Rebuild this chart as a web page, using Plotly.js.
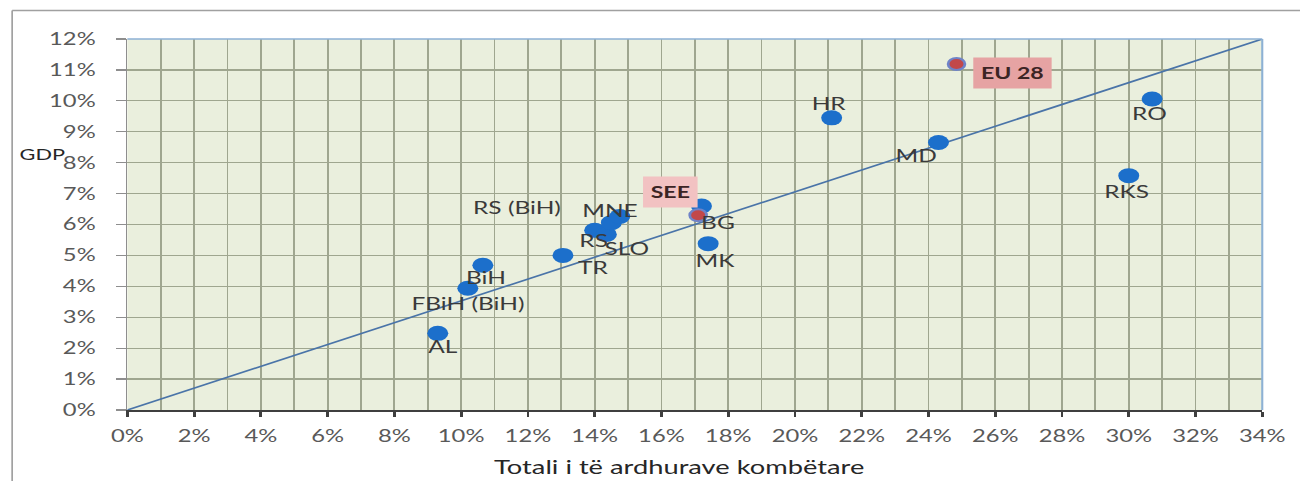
<!DOCTYPE html>
<html>
<head>
<meta charset="utf-8">
<script src="https://cdn.plot.ly/plotly-3.0.1.min.js"></script>
<style>
  html, body { margin:0; padding:0; background:#fff; overflow:hidden; }
  #wrap { position:absolute; left:0; top:0; width:929px; height:481px; transform:scaleX(1.3994); transform-origin:0 0; }
  #chart { width:929px; height:481px; }
</style>
</head>
<body>
<div id="wrap"><div id="chart"></div></div>
<script>
// ---- data (percent) ----
const countries = ['AL','FBiH (BiH)','BiH','TR','RS','SLO','RS (BiH)','MNE','BG','MK','HR','MD','RO','RKS'];
const revenue   = [9.3, 10.2, 10.65, 13.05, 14.0, 14.35, 14.5, 14.75, 17.2, 17.4, 21.1, 24.3, 30.7, 30.0];
const gdp       = [2.48, 3.94, 4.68, 5.0, 5.81, 5.68, 6.06, 6.26, 6.6, 5.38, 9.45, 8.65, 10.06, 7.58];

const aggregates   = ['SEE','EU 28'];
const aggRevenue   = [17.1, 24.84];
const aggGdp       = [6.3, 11.19];

const trendX = [0, 34];
const trendY = [0, 12];

const xTickVals = [0,2,4,6,8,10,12,14,16,18,20,22,24,26,28,30,32,34];
const yTickVals = [0,1,2,3,4,5,6,7,8,9,10,11,12];

const xTitle = 'Totali i të ardhurave kombëtare';
const yTitle = 'GDP';

// ---- presentation ----
const S = 1.3994; // horizontal stretch of the reference
const FONT = 'Lato, "Open Sans", sans-serif';
// label offsets in reference pixels [dx right, dy up]
const labelOffsets = {
  'AL':[5,-13], 'FBiH (BiH)':[0,-15], 'BiH':[4,-12], 'TR':[30,-12], 'RS':[-2,-10],
  'SLO':[20,-14], 'RS (BiH)':[-94,15], 'MNE':[-10,6], 'BG':[16,-17], 'MK':[7,-17],
  'HR':[-3,14], 'MD':[-22,-13], 'RO':[-3,-15], 'RKS':[-2,-16]
};
const aggOffsets = { 'SEE':[-28,23], 'EU 28':[56,-9] };
const aggBoxes = { 'SEE':'#F2C2C2', 'EU 28':'#E6A3A3' };

const gridColor = '#9FA68F';

const traces = [
  { x: trendX, y: trendY, mode:'lines', type:'scatter',
    line:{color:'#4A74A8', width:1.6}, hoverinfo:'skip' },
  { x: revenue, y: gdp, mode:'markers', type:'scatter', text: countries,
    marker:{color:'#1C6FCB', size:15, line:{width:0}}, cliponaxis:false },
  { x: aggRevenue, y: aggGdp, mode:'markers', type:'scatter', text: aggregates,
    marker:{color:'#C2484A', size:12, line:{color:'#6F83C8', width:2}}, cliponaxis:false }
];

const annotations = [];
countries.forEach((c,i) => {
  const o = labelOffsets[c];
  annotations.push({ x: revenue[i], y: gdp[i], xref:'x', yref:'y', text: c, showarrow:false,
    xshift: o[0]/S, yshift: o[1], font:{family:FONT, size:17.5, color:'#3A3A3A'} });
});
aggregates.forEach((c,i) => {
  const o = aggOffsets[c];
  annotations.push({ x: aggRevenue[i], y: aggGdp[i], xref:'x', yref:'y', text: '<b>'+c+'</b>', showarrow:false,
    xshift: o[0]/S, yshift: o[1], bgcolor: aggBoxes[c], borderpad: 5,
    font:{family:FONT, size:16.5, color:'#3B2424'} });
});
annotations.push({ x:0.487, y:-0.19, xref:'paper', yref:'paper', text: xTitle, showarrow:false,
  font:{family:FONT, size:19.5, color:'#262626'} });
annotations.push({ x:-0.098, y:0.72, xref:'paper', yref:'paper', xanchor:'left', text: yTitle, showarrow:false,
  font:{family:FONT, size:15.5, color:'#262626'} });

const layout = {
  width: 929, height: 481,
  margin: { l: 91, r: 26.5, t: 38.5, b: 71, pad: 0 },
  paper_bgcolor:'#ffffff', plot_bgcolor:'#EAEFDD',
  showlegend:false,
  xaxis: { range:[0,34], tickvals:xTickVals, ticktext:xTickVals.map(v=>v+'%'),
    showgrid:true, gridcolor:gridColor, gridwidth:1.3,
    minor:{ dtick:1, tick0:0, showgrid:true, gridcolor:gridColor, gridwidth:1.3, ticks:'' },
    zeroline:false, showline:true, linecolor:'#3F3F3F', linewidth:1.6,
    ticks:'outside', ticklen:5, tickwidth:2, tickcolor:'#3F3F3F',
    ticklabelstandoff: 5,
    tickfont:{family:FONT, size:17, color:'#595959'}, fixedrange:true },
  yaxis: { range:[0,12], tickvals:yTickVals, ticktext:yTickVals.map(v=>v+'%'),
    showgrid:true, gridcolor:gridColor, gridwidth:1.3,
    zeroline:false, showline:true, linecolor:'#8E8E8E', linewidth:1.2,
    ticks:'outside', ticklen:7, tickwidth:1.2, tickcolor:'#8E8E8E',
    ticklabelstandoff: 11,
    tickfont:{family:FONT, size:17, color:'#595959'}, fixedrange:true },
  annotations: annotations,
  shapes: [
    { type:'line', xref:'paper', yref:'paper', x0:0, x1:1, y0:1, y1:1, line:{color:'#8DB1D4', width:1.5} },
    { type:'line', xref:'paper', yref:'paper', x0:1, x1:1, y0:0, y1:1, line:{color:'#8DB1D4', width:1.5} },
    { type:'line', xref:'paper', yref:'paper', x0:-0.1015, x1:1.1, y0:1.077, y1:1.077, line:{color:'#A0A0A0', width:1.5} },
    { type:'line', xref:'paper', yref:'paper', x0:-0.1015, x1:-0.1015, y0:1.077, y1:-0.3, line:{color:'#A0A0A0', width:1.2} }
  ]
};

Plotly.newPlot('chart', traces, layout, {staticPlot:true, displayModeBar:false});
</script>
</body>
</html>
